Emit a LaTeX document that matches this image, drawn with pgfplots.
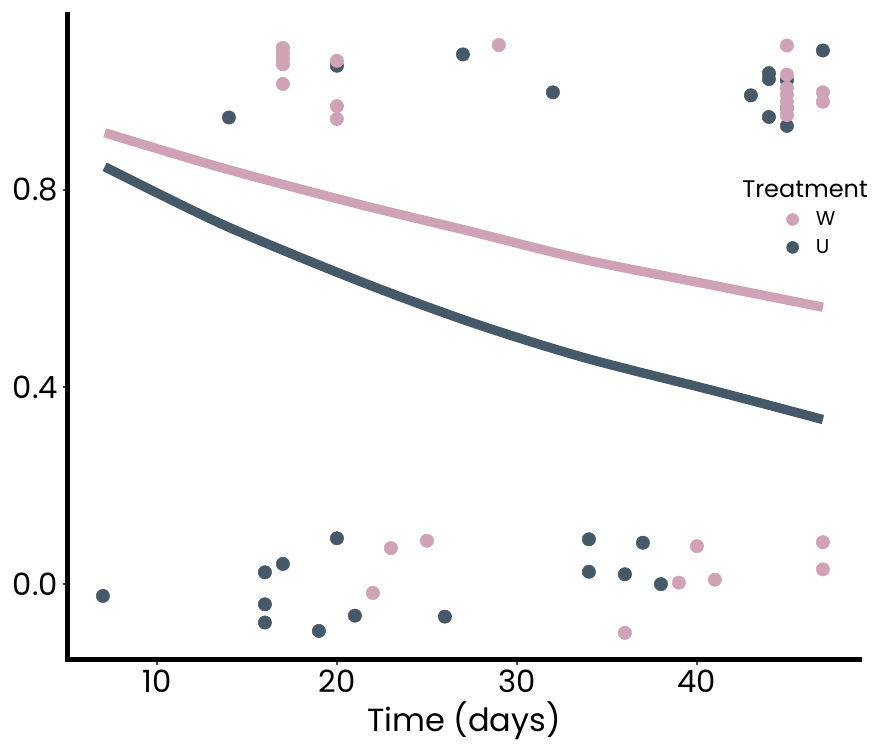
\documentclass[border=0pt]{standalone}
\usepackage{fontspec}
\setmainfont{Poppins}
\usepackage{pgfplots}
\pgfplotsset{compat=1.18}
\definecolor{wpink}{RGB}{208,162,181}
\definecolor{udark}{RGB}{69,89,104}

\begin{document}
\begin{tikzpicture}
\useasboundingbox (-51pt,-64.5pt) rectangle (603pt,495pt);
\begin{axis}[
  at={(0,0)}, anchor=south west,
  scale only axis, width=594pt, height=483.75pt,
  xmin=5.06, xmax=49.06, ymin=-0.154, ymax=1.155,
  clip=false,
  axis lines=left,
  axis line style={-, line width=3.75pt, black, line cap=rect},
  xtick={10,20,30,40}, ytick={0,0.4,0.8},
  tick align=outside, major tick length=4pt,
  tick style={black!70, line width=1pt},
  /pgf/number format/assume math mode=true,
  ticklabel style={font=\fontsize{23}{26}\selectfont},
  yticklabel style={/pgf/number format/.cd, fixed, fixed zerofill, precision=1},
  xlabel={Time (days)},
  xlabel style={font=\fontsize{24}{28}\selectfont},
  legend style={draw=none, fill=none, at={(0.902,0.704)}, anchor=north west,
    font=\fontsize{15}{18}\selectfont, row sep=5pt,
    /tikz/every odd column/.append style={column sep=11pt}},
  legend cell align=left,
]
% U points
\addplot[only marks, mark=*, mark size=5pt, color=udark, forget plot] coordinates {
(14,0.947) (20,1.052) (27,1.075) (32,0.998) (43,0.992)
(44,1.037) (44,1.025) (44,0.948)
(45,1.023) (45,0.966) (45,0.930) (47,1.083)
(7,-0.024) (16,0.024) (16,-0.041) (16,-0.078) (17,0.041)
(20,0.093) (21,-0.064) (19,-0.095) (26,-0.066)
(34,0.091) (34,0.025) (36,0.020) (37,0.084) (38,0.000)
};
% W points
\addplot[only marks, mark=*, mark size=5pt, color=wpink, forget plot] coordinates {
(17,1.088) (17,1.077) (17,1.066) (17,1.055) (17,1.015)
(20,1.062) (20,0.970) (20,0.944) (29,1.094)
(45,1.093) (45,1.034) (45,1.007) (45,0.993) (45,0.979) (45,0.967) (45,0.952)
(47,0.998) (47,0.979)
(23,0.073) (25,0.088) (22,-0.018) (36,-0.099)
(39,0.003) (40,0.077) (41,0.009) (47,0.085) (47,0.030)
};
% fitted curves
\addplot[wpink, line width=7pt, smooth, forget plot] coordinates {
(7.1,0.916) (13.7,0.844) (21.1,0.772) (27.4,0.716)
(33.7,0.659) (41.1,0.605) (47.0,0.562)
};
\addplot[udark, line width=7pt, smooth, forget plot] coordinates {
(7.1,0.847) (13.7,0.729) (21.1,0.617) (27.4,0.532)
(33.7,0.460) (41.1,0.391) (47.0,0.334)
};
\addlegendimage{only marks, mark=*, mark size=4.5pt, color=wpink}
\addlegendentry{W}
\addlegendimage{only marks, mark=*, mark size=4.5pt, color=udark}
\addlegendentry{U}
\node[font=\fontsize{18}{22}\selectfont] at (rel axis cs:0.9306,0.730) {Treatment};
\end{axis}
\end{tikzpicture}
\end{document}
